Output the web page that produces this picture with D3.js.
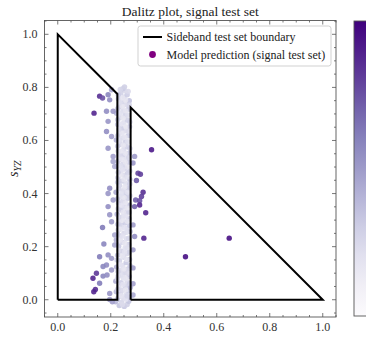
<!DOCTYPE html>
<html>
<head>
<meta charset="utf-8">
<script src="https://cdn.jsdelivr.net/npm/d3@7"></script>
<style>
  html, body { margin: 0; padding: 0; background: #fff; overflow: hidden; }
  svg { display: block; }
</style>
</head>
<body>
<svg id="chart" width="366" height="341"></svg>
<script>
// boundary of the sideband region (two polygons)
const leftRegion = [[0, 0], [0, 1], [0.225, 0.775], [0.225, 0], [0, 0]]
const rightRegion = [[0.275, 0], [0.275, 0.725], [1, 0], [0.275, 0]]

// [s_XY, s_YZ, prediction] – points inside the signal band
const bandPoints = [
  [0.232, -0.022, 0.34], [0.251, -0.025, 0.32], [0.262, -0.018, 0.29],
  [0.218, -0.008, 0.40], [0.241, -0.010, 0.26], [0.268, -0.006, 0.34],
  [0.228, 0.008, 0.30], [0.249, 0.005, 0.24], [0.272, 0.010, 0.36],
  [0.236, 0.022, 0.28], [0.258, 0.019, 0.22], [0.221, 0.030, 0.38],
  [0.244, 0.036, 0.25], [0.266, 0.033, 0.31], [0.231, 0.048, 0.23],
  [0.255, 0.051, 0.27], [0.274, 0.046, 0.40], [0.239, 0.064, 0.30],
  [0.219, 0.070, 0.43], [0.262, 0.068, 0.24], [0.247, 0.082, 0.21],
  [0.228, 0.090, 0.33], [0.270, 0.088, 0.35], [0.253, 0.101, 0.26],
  [0.236, 0.110, 0.24], [0.265, 0.116, 0.28], [0.222, 0.123, 0.41],
  [0.245, 0.128, 0.22], [0.258, 0.140, 0.31], [0.233, 0.147, 0.27],
  [0.271, 0.152, 0.34], [0.249, 0.160, 0.23], [0.226, 0.168, 0.36],
  [0.262, 0.174, 0.25], [0.240, 0.183, 0.29], [0.254, 0.195, 0.21],
  [0.230, 0.202, 0.32], [0.268, 0.208, 0.30], [0.244, 0.216, 0.26],
  [0.221, 0.225, 0.42], [0.259, 0.230, 0.22], [0.235, 0.240, 0.28],
  [0.250, 0.251, 0.25], [0.273, 0.257, 0.37], [0.228, 0.263, 0.31],
  [0.262, 0.270, 0.23], [0.241, 0.281, 0.27], [0.255, 0.290, 0.30],
  [0.232, 0.298, 0.24], [0.269, 0.305, 0.32], [0.246, 0.314, 0.21],
  [0.224, 0.322, 0.39], [0.260, 0.330, 0.26], [0.238, 0.338, 0.29],
  [0.252, 0.349, 0.23], [0.271, 0.356, 0.35], [0.229, 0.364, 0.30],
  [0.245, 0.372, 0.25], [0.263, 0.381, 0.28], [0.236, 0.390, 0.22],
  [0.255, 0.398, 0.31], [0.220, 0.405, 0.44], [0.248, 0.413, 0.24],
  [0.267, 0.420, 0.33], [0.233, 0.430, 0.27], [0.257, 0.438, 0.22],
  [0.242, 0.447, 0.29], [0.272, 0.453, 0.36], [0.227, 0.460, 0.32],
  [0.251, 0.469, 0.25], [0.264, 0.478, 0.28], [0.237, 0.486, 0.23],
  [0.254, 0.495, 0.30], [0.223, 0.503, 0.40], [0.246, 0.511, 0.26],
  [0.268, 0.518, 0.32], [0.232, 0.527, 0.24], [0.258, 0.535, 0.21],
  [0.243, 0.544, 0.28], [0.270, 0.552, 0.34], [0.228, 0.560, 0.31],
  [0.250, 0.568, 0.23], [0.262, 0.577, 0.27], [0.236, 0.586, 0.25],
  [0.255, 0.594, 0.29], [0.221, 0.602, 0.41], [0.245, 0.610, 0.22],
  [0.266, 0.618, 0.31], [0.231, 0.627, 0.26], [0.257, 0.636, 0.24],
  [0.241, 0.645, 0.30], [0.271, 0.652, 0.37], [0.226, 0.660, 0.33],
  [0.250, 0.668, 0.21], [0.263, 0.677, 0.28], [0.235, 0.686, 0.25],
  [0.254, 0.695, 0.27], [0.222, 0.703, 0.39], [0.246, 0.711, 0.23],
  [0.267, 0.718, 0.32], [0.232, 0.727, 0.29], [0.258, 0.735, 0.24],
  [0.242, 0.744, 0.26], [0.270, 0.750, 0.35], [0.229, 0.757, 0.34],
  [0.251, 0.764, 0.22], [0.262, 0.772, 0.30], [0.238, 0.779, 0.28],
  [0.255, 0.787, 0.25], [0.246, 0.795, 0.31]
]

// second, interleaved layer of band points
const bandPointsB = [
  [0.244, -0.018, 0.24], [0.224, 0.000, 0.34], [0.257, 0.002, 0.20],
  [0.262, 0.014, 0.26], [0.240, 0.015, 0.19], [0.226, 0.040, 0.28],
  [0.256, 0.037, 0.18], [0.271, 0.060, 0.30], [0.246, 0.058, 0.20],
  [0.225, 0.078, 0.26], [0.258, 0.080, 0.19], [0.238, 0.094, 0.22],
  [0.264, 0.100, 0.24], [0.227, 0.106, 0.29], [0.250, 0.116, 0.18],
  [0.273, 0.128, 0.32], [0.236, 0.133, 0.20], [0.260, 0.152, 0.19],
  [0.224, 0.150, 0.31], [0.243, 0.166, 0.18], [0.270, 0.180, 0.28],
  [0.230, 0.186, 0.24], [0.252, 0.180, 0.20], [0.262, 0.198, 0.22],
  [0.223, 0.210, 0.33], [0.253, 0.212, 0.18], [0.236, 0.225, 0.19],
  [0.268, 0.232, 0.26], [0.245, 0.240, 0.20], [0.226, 0.248, 0.28],
  [0.260, 0.254, 0.21], [0.236, 0.266, 0.18], [0.251, 0.272, 0.20],
  [0.272, 0.280, 0.31], [0.226, 0.284, 0.30], [0.262, 0.296, 0.19],
  [0.244, 0.300, 0.18], [0.230, 0.312, 0.26], [0.258, 0.315, 0.20],
  [0.270, 0.330, 0.27], [0.247, 0.330, 0.19], [0.228, 0.343, 0.28],
  [0.262, 0.346, 0.18], [0.240, 0.356, 0.20], [0.256, 0.365, 0.19],
  [0.225, 0.380, 0.32], [0.250, 0.385, 0.18], [0.272, 0.392, 0.29],
  [0.242, 0.400, 0.21], [0.263, 0.405, 0.20], [0.230, 0.417, 0.26],
  [0.253, 0.425, 0.18], [0.272, 0.436, 0.30], [0.226, 0.443, 0.31],
  [0.250, 0.452, 0.19], [0.262, 0.462, 0.21], [0.239, 0.470, 0.18],
  [0.272, 0.485, 0.28], [0.228, 0.480, 0.29], [0.246, 0.490, 0.20],
  [0.262, 0.500, 0.19], [0.236, 0.505, 0.22], [0.255, 0.518, 0.18],
  [0.226, 0.520, 0.30], [0.241, 0.530, 0.19], [0.268, 0.536, 0.26],
  [0.231, 0.545, 0.24], [0.255, 0.552, 0.19], [0.240, 0.560, 0.18],
  [0.272, 0.570, 0.30], [0.226, 0.578, 0.31], [0.248, 0.582, 0.18],
  [0.264, 0.595, 0.21], [0.234, 0.600, 0.22], [0.254, 0.612, 0.19],
  [0.226, 0.618, 0.29], [0.243, 0.628, 0.19], [0.268, 0.636, 0.24],
  [0.231, 0.642, 0.23], [0.257, 0.652, 0.18], [0.240, 0.662, 0.20],
  [0.272, 0.670, 0.30], [0.226, 0.678, 0.31], [0.247, 0.684, 0.18],
  [0.264, 0.696, 0.22], [0.234, 0.702, 0.21], [0.256, 0.712, 0.19],
  [0.226, 0.720, 0.30], [0.245, 0.728, 0.18], [0.270, 0.734, 0.26],
  [0.234, 0.744, 0.22], [0.256, 0.752, 0.19], [0.244, 0.760, 0.18],
  [0.228, 0.772, 0.31], [0.266, 0.785, 0.24], [0.236, 0.792, 0.26],
  [0.252, 0.802, 0.29]
]

// points just outside the band edges
const edgePoints = [
  [0.203, 0.791, 0.45], [0.190, 0.772, 0.58], [0.196, 0.753, 0.55],
  [0.184, 0.710, 0.55], [0.209, 0.710, 0.50], [0.190, 0.672, 0.52],
  [0.184, 0.634, 0.55], [0.203, 0.615, 0.48], [0.190, 0.571, 0.52],
  [0.209, 0.540, 0.48], [0.209, 0.521, 0.45], [0.215, 0.502, 0.42],
  [0.196, 0.420, 0.55], [0.190, 0.400, 0.52], [0.209, 0.376, 0.48],
  [0.190, 0.351, 0.55], [0.196, 0.320, 0.52], [0.203, 0.294, 0.50],
  [0.169, 0.272, 0.62], [0.215, 0.244, 0.45], [0.174, 0.210, 0.58],
  [0.215, 0.206, 0.45], [0.158, 0.162, 0.62], [0.190, 0.169, 0.55],
  [0.203, 0.156, 0.50], [0.184, 0.131, 0.55], [0.171, 0.125, 0.58],
  [0.203, 0.112, 0.50], [0.171, 0.089, 0.58], [0.186, 0.093, 0.55],
  [0.158, 0.062, 0.62], [0.196, 0.024, 0.52], [0.196, 0.001, 0.50],
  [0.206, -0.008, 0.48], [0.290, 0.540, 0.50], [0.284, 0.515, 0.52],
  [0.284, 0.282, 0.50], [0.290, 0.238, 0.55], [0.284, 0.188, 0.50],
  [0.284, 0.120, 0.50], [0.284, 0.060, 0.48], [0.284, 0.018, 0.45]
]

// far-out, high-prediction points
const outerPoints = [
  [0.158, 0.767, 0.85], [0.169, 0.760, 0.75], [0.137, 0.703, 0.88],
  [0.303, 0.477, 0.78], [0.312, 0.473, 0.80], [0.297, 0.449, 0.72],
  [0.322, 0.405, 0.85], [0.316, 0.389, 0.80], [0.294, 0.376, 0.70],
  [0.309, 0.373, 0.75], [0.290, 0.351, 0.70], [0.309, 0.357, 0.88],
  [0.332, 0.328, 0.88], [0.325, 0.232, 0.88], [0.354, 0.565, 0.92],
  [0.482, 0.162, 0.95], [0.647, 0.232, 0.95], [0.146, 0.100, 0.82],
  [0.133, 0.081, 0.88], [0.142, 0.039, 0.85], [0.136, 0.030, 0.88]
]

const xTicks = [0, 0.2, 0.4, 0.6, 0.8, 1.0]
const yTicks = [0, 0.2, 0.4, 0.6, 0.8, 1.0]
const legendItems = ['Sideband test set boundary', 'Model prediction (signal test set)']

const svg = d3.select('#chart')
const serif = "'Liberation Serif', 'DejaVu Serif', serif"
const frame = { left: 44.5, right: 336, top: 20.5, bottom: 317 }

const x = d3.scaleLinear().domain([-0.05, 1.05]).range([frame.left, frame.right])
const y = d3.scaleLinear().domain([-0.065, 1.052]).range([frame.bottom, frame.top])
const color = d3.scaleSequential(d3.interpolatePurples).domain([0, 1])

svg.append('text').attr('x', (frame.left + frame.right) / 2).attr('y', 15.5).attr('text-anchor', 'middle')
  .attr('font-family', serif).attr('font-size', 13.5).attr('fill', '#222').text('Dalitz plot, signal test set')

svg.append('defs').append('clipPath').attr('id', 'plotClip')
  .append('rect').attr('x', frame.left).attr('y', frame.top)
  .attr('width', frame.right - frame.left).attr('height', frame.bottom - frame.top)

const plot = svg.append('g').attr('clip-path', 'url(#plotClip)')
const allPoints = [...bandPoints, ...bandPointsB, ...edgePoints, ...outerPoints]
plot.selectAll('circle').data(allPoints).join('circle')
  .attr('cx', (d) => x(d[0])).attr('cy', (d) => y(d[1])).attr('r', 2.7)
  .attr('fill', (d) => color(d[2])).attr('fill-opacity', 0.9)

const line = d3.line().x((d) => x(d[0])).y((d) => y(d[1]))
for (const region of [leftRegion, rightRegion]) {
  plot.append('path').datum(region).attr('d', line).attr('fill', 'none')
    .attr('stroke', '#000').attr('stroke-width', 2).attr('stroke-linejoin', 'miter')
}

// ticks (inward, all four sides)
const tickColor = '#555'
const minorX = d3.range(-0.05, 1.06, 0.05).map((v) => +v.toFixed(2))
const minorY = d3.range(-0.05, 1.06, 0.05).map((v) => +v.toFixed(2)).filter((v) => v >= -0.065 && v <= 1.052)
const ticks = svg.append('g').attr('stroke', tickColor).attr('stroke-width', 0.8)
for (const v of minorX) {
  const major = xTicks.some((t) => Math.abs(t - v) < 1e-6)
  const len = major ? 4 : 2
  ticks.append('line').attr('x1', x(v)).attr('x2', x(v)).attr('y1', frame.bottom).attr('y2', frame.bottom - len)
  ticks.append('line').attr('x1', x(v)).attr('x2', x(v)).attr('y1', frame.top).attr('y2', frame.top + len)
}
for (const v of minorY) {
  const major = yTicks.some((t) => Math.abs(t - v) < 1e-6)
  const len = major ? 4 : 2
  ticks.append('line').attr('y1', y(v)).attr('y2', y(v)).attr('x1', frame.left).attr('x2', frame.left + len)
  ticks.append('line').attr('y1', y(v)).attr('y2', y(v)).attr('x1', frame.right).attr('x2', frame.right - len)
}

svg.append('rect').attr('x', frame.left).attr('y', frame.top)
  .attr('width', frame.right - frame.left).attr('height', frame.bottom - frame.top)
  .attr('fill', 'none').attr('stroke', tickColor).attr('stroke-width', 0.9)

svg.append('g').selectAll('text').data(xTicks).join('text')
  .attr('x', (d) => x(d)).attr('y', 331).attr('text-anchor', 'middle')
  .attr('font-family', serif).attr('font-size', 12).attr('fill', '#333').text((d) => d.toFixed(1))
svg.append('g').selectAll('text').data(yTicks).join('text')
  .attr('x', 37.5).attr('y', (d) => y(d) + 4).attr('text-anchor', 'end')
  .attr('font-family', serif).attr('font-size', 12).attr('fill', '#333').text((d) => d.toFixed(1))

// axis labels
const yLab = svg.append('text').attr('transform', `translate(18,${(frame.top + frame.bottom) / 2}) rotate(-90)`)
  .attr('text-anchor', 'middle').attr('font-family', serif).attr('font-size', 14).attr('fill', '#222')
yLab.append('tspan').attr('font-style', 'italic').text('s')
yLab.append('tspan').attr('font-style', 'italic').attr('font-size', 10).attr('dy', 3).text('YZ')
const xLab = svg.append('text').attr('x', (frame.left + frame.right) / 2).attr('y', 348)
  .attr('text-anchor', 'middle').attr('font-family', serif).attr('font-size', 14).attr('fill', '#222')
xLab.append('tspan').attr('font-style', 'italic').text('s')
xLab.append('tspan').attr('font-style', 'italic').attr('font-size', 10).attr('dy', 3).text('XY')

// legend
const legend = svg.append('g').attr('transform', 'translate(138,26)')
legend.append('rect').attr('width', 193).attr('height', 40).attr('rx', 2.5)
  .attr('fill', '#fff').attr('fill-opacity', 0.85).attr('stroke', '#ccc').attr('stroke-width', 0.9)
legend.append('line').attr('x1', 5).attr('x2', 24).attr('y1', 11).attr('y2', 11).attr('stroke', '#000').attr('stroke-width', 2)
legend.append('circle').attr('cx', 14.5).attr('cy', 28.5).attr('r', 3.4).attr('fill', '#800080')
legend.selectAll('text.item').data(legendItems).join('text').attr('class', 'item')
  .attr('x', 28.5).attr('y', (d, i) => 15 + i * 17.5)
  .attr('font-family', serif).attr('font-size', 12).attr('fill', '#222').text((d) => d)

// colorbar
const cb = { x: 354, y: 21, w: 30, h: 295 }
const grad = svg.select('defs').append('linearGradient').attr('id', 'cbGrad')
  .attr('x1', 0).attr('x2', 0).attr('y1', 1).attr('y2', 0)
grad.selectAll('stop').data(d3.range(0, 1.001, 0.1)).join('stop')
  .attr('offset', (d) => d).attr('stop-color', (d) => color(d))
svg.append('rect').attr('x', cb.x).attr('y', cb.y).attr('width', cb.w).attr('height', cb.h)
  .attr('fill', 'url(#cbGrad)').attr('stroke', tickColor).attr('stroke-width', 0.9)
</script>
</body>
</html>
